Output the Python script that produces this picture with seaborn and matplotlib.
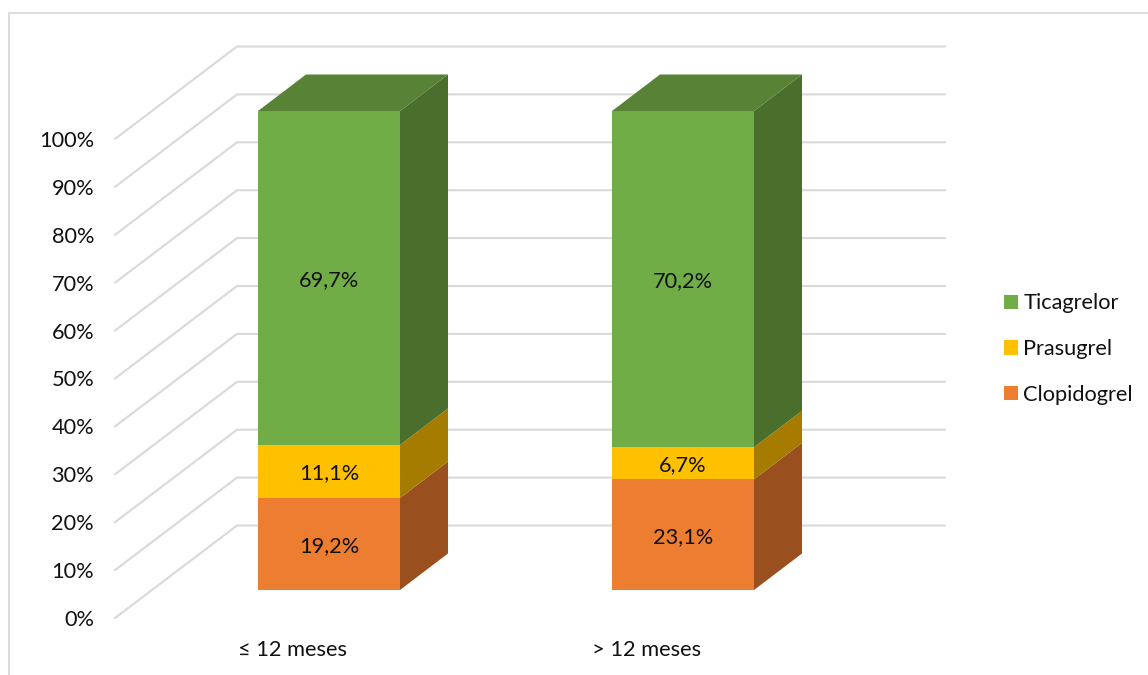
import matplotlib
matplotlib.use("Agg")
import matplotlib.pyplot as plt
from matplotlib.patches import Polygon, Patch
import numpy as np
import seaborn as sns

# Share of each antiplatelet agent per time group (percent)
periods = ["≤ 12 meses", "> 12 meses"]
series_names = ["Clopidogrel", "Prasugrel", "Ticagrelor"]
clopidogrel = [19.2, 23.1]
prasugrel = [11.1, 6.7]
ticagrelor = [69.7, 70.2]
value_labels = [["19,2%", "23,1%"], ["11,1%", "6,7%"], ["69,7%", "70,2%"]]
y_ticks = list(range(0, 101, 10))
y_tick_labels = [f"{v}%" for v in y_ticks]

front_colors = ["#ED7D31", "#FFC000", "#70AD47"]
side_colors = ["#9A4F1E", "#A67C00", "#4A6E2B"]
top_color = "#588235"
grid_color = "#D9D9D9"

W, H = 1148, 675
sns.set_theme(style="white")
plt.rcParams["font.family"] = ["Lato", "DejaVu Sans"]
FS = 15.7

fig = plt.figure(figsize=(W / 100, H / 100), dpi=100)
ax = fig.add_axes([0, 0, 1, 1])

# Draw the front faces as stacked bars
bar_width = 142 / 354
stack = np.zeros(2)
bottoms = []
for name, vals, col in zip(series_names, [clopidogrel, prasugrel, ticagrelor], front_colors):
    sns.barplot(x=periods, y=vals, bottom=stack.copy(), color=col, saturation=1,
                width=bar_width, linewidth=0, ax=ax, label=name, legend=False)
    bottoms.append(stack.copy())
    stack = stack + np.array(vals)

# One data unit on x is the category spacing, one on y is a percentage point
px_x, px_y = 354.0, 4.79
ax.set_xlim(-329 / px_x, (W - 329) / px_x)
ax.set_ylim(-(H - 590) / px_y, 590 / px_y)
ax.axis("off")

# Depth of the bars and placement of the receding walls
dx, dy = 48 / px_x, 36.5 / px_y
wall_front_x, wall_back_x, wall_right_x = (115 - 329) / px_x, (237 - 329) / px_x, (945 - 329) / px_x
wall_front_dy, wall_back_dy = (590 - 618) / px_y, (590 - 525.5) / px_y

for t, lab in zip(y_ticks, y_tick_labels):
    ax.plot([wall_front_x, wall_back_x, wall_right_x],
            [t + wall_front_dy, t + wall_back_dy, t + wall_back_dy],
            color=grid_color, lw=1.5, zorder=0.5, solid_joinstyle="miter")
    ax.text((94 - 329) / px_x, t + wall_front_dy, lab, ha="right", va="center_baseline",
            fontsize=FS, color="#111111")

# Extruded side and top faces of each bar
half = bar_width / 2
for i in range(2):
    r = i + half
    for s, vals in enumerate([clopidogrel, prasugrel, ticagrelor]):
        b, tp = bottoms[s][i], bottoms[s][i] + vals[i]
        ax.add_patch(Polygon([(r, b), (r + dx, b + dy), (r + dx, tp + dy), (r, tp)],
                             closed=True, fc=side_colors[s], ec="none", zorder=1))
        ax.text(i, b + vals[i] / 2, value_labels[s][i], ha="center", va="center_baseline",
                fontsize=FS, color="#111111", zorder=4)
    top = stack[i]
    ax.add_patch(Polygon([(i - half, top), (r, top), (r + dx, top + dy), (i - half + dx, top + dy)],
                         closed=True, fc=top_color, ec="none", zorder=1))

# Category labels sit under the floor, left of the bar centres
for i, lab in enumerate(periods):
    ax.text(i - 36.5 / px_x, -(648 - 590) / px_y, lab, ha="center", va="center_baseline",
            fontsize=FS, color="#111111")

# Chart-area border along the top and left edges
ax.plot([1, 8.5 / W, 8.5 / W], [1 - 12.5 / H, 1 - 12.5 / H, 0], transform=ax.transAxes,
        color=grid_color, lw=1.3, clip_on=False)

handles = [Patch(fc=c, ec="none", label=n) for n, c in zip(series_names, front_colors)][::-1]
ax.legend(handles=handles, loc="center left", bbox_to_anchor=(1000 / W, 1 - 349 / H),
          frameon=False, fontsize=FS, handlelength=0.64, handleheight=0.64,
          handletextpad=0.23, labelspacing=1.17, borderpad=0, borderaxespad=0.2,
          labelcolor="#111111")

fig.savefig("out.png", dpi=100)
